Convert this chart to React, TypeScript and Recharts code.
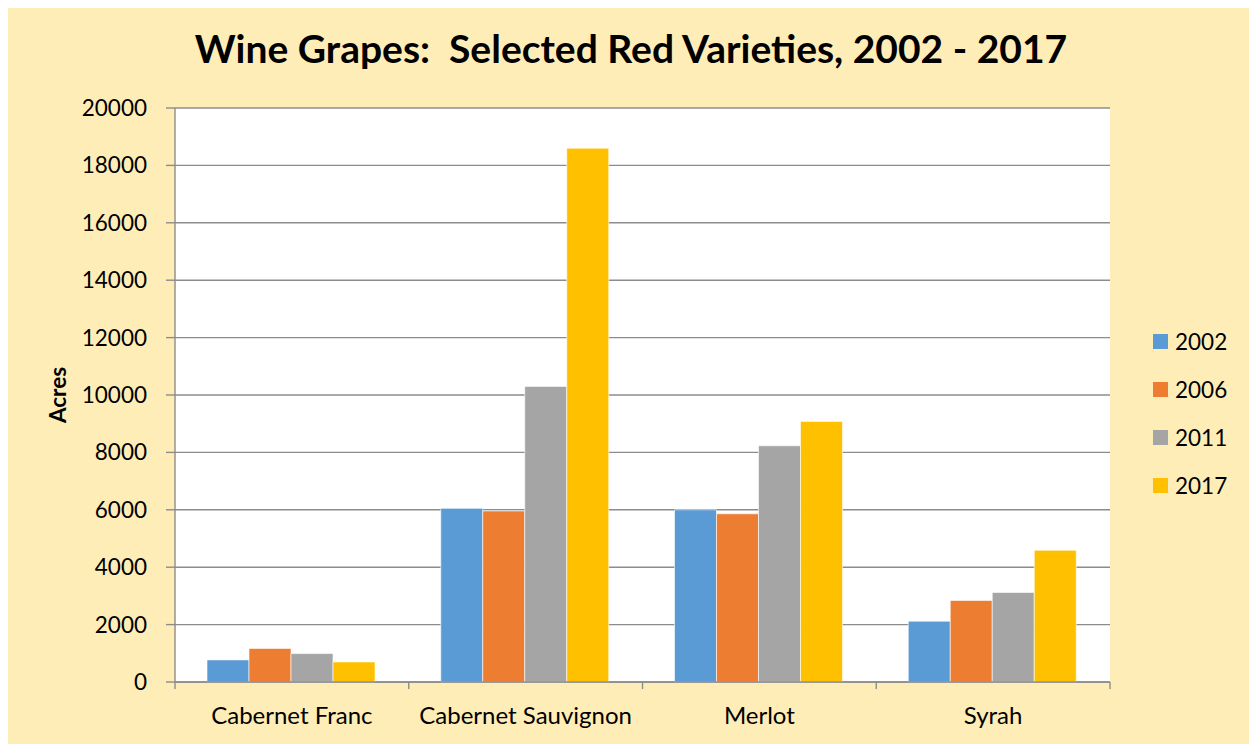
import { BarChart, Bar, XAxis, YAxis, CartesianGrid } from "recharts";

const CATEGORIES = ["Cabernet Franc", "Cabernet Sauvignon", "Merlot", "Syrah"];
const YEARS = ["2002", "2006", "2011", "2017"];
const ACRES_2002 = [770, 6050, 6000, 2120];
const ACRES_2006 = [1170, 5960, 5860, 2840];
const ACRES_2011 = [990, 10300, 8230, 3120];
const ACRES_2017 = [700, 18600, 9080, 4590];
const Y_TICKS = [0, 2000, 4000, 6000, 8000, 10000, 12000, 14000, 16000, 18000, 20000];
const COLORS = ["#5B9BD5", "#ED7D31", "#A5A5A5", "#FFC000"];

const FONT = "Lato, 'Open Sans', sans-serif";
const BG = "#FFEDB7";
const AXIS_GRAY = "#8C8C8C";

const SERIES = [ACRES_2002, ACRES_2006, ACRES_2011, ACRES_2017];

// boundaries between categories, for the tick marks under the axis
const BOUNDS = CATEGORIES.map((_, i) => i).concat(CATEGORIES.length);

const chartData = CATEGORIES.map((variety, i) => {
  // slot = centre of the category on a 0..n numeric scale
  const row: Record<string, string | number> = { variety, slot: i + 0.5 };
  YEARS.forEach((year, s) => {
    row[year] = SERIES[s][i];
  });
  return row;
});

const AcresLabel = ({ viewBox }: any) => {
  const cx = viewBox.x + 57;
  const cy = viewBox.y + viewBox.height / 2;
  return (
    <text
      x={cx}
      y={cy}
      transform={`rotate(-90 ${cx} ${cy})`}
      textAnchor="middle"
      dominantBaseline="central"
      fontFamily={FONT}
      fontWeight="bold"
      fontSize={22.5}
      fill="#000"
    >
      Acres
    </text>
  );
};

export default function App() {
  return (
    <div style={{ position: "relative", margin: -8, width: 1257, height: 752, background: "#fff" }}>
      <div
        style={{
          position: "absolute",
          left: 7,
          top: 2,
          width: 1245,
          height: 744,
          background: BG,
          border: "1.5px solid #9E9E9E",
        }}
      />
      <div
        style={{
          position: "absolute",
          left: 0,
          top: 24,
          width: 1262,
          textAlign: "center",
          fontFamily: FONT,
          fontWeight: "bold",
          fontSize: 39,
          lineHeight: "48px",
          color: "#000",
          whiteSpace: "pre",
        }}
      >
        {"Wine Grapes:  Selected Red Varieties, 2002 - 2017"}
      </div>
      <div style={{ position: "absolute", left: 0, top: 0 }}>
        <BarChart
          width={1257}
          height={752}
          data={chartData}
          margin={{ top: 108, right: 147, bottom: 0, left: 0 }}
          barCategoryGap={32}
          barGap={0}
        >
          <CartesianGrid
            vertical={false}
            stroke={AXIS_GRAY}
            strokeWidth={1.4}
            yAxisId="acres"
            xAxisId="cat"
            fill="#fff"
            fillOpacity={1}
          />
          <XAxis
            xAxisId="bounds"
            dataKey="slot"
            type="number"
            domain={[0, CATEGORIES.length]}
            allowDataOverflow
            ticks={BOUNDS}
            interval={0}
            tickFormatter={() => ""}
            tickSize={7}
            height={8}
            axisLine={{ stroke: AXIS_GRAY, strokeWidth: 1.4 }}
            tickLine={{ stroke: AXIS_GRAY, strokeWidth: 1.4 }}
          />
          <XAxis
            xAxisId="cat"
            dataKey="variety"
            axisLine={false}
            tickLine={false}
            tickSize={0}
            tickMargin={17}
            height={62}
            interval={0}
            tick={{ fill: "#000", fontSize: 24, fontFamily: FONT }}
          />
          <YAxis
            yAxisId="acres"
            width={175}
            domain={[0, 20000]}
            ticks={Y_TICKS}
            interval={0}
            tickSize={9}
            tickMargin={19}
            axisLine={{ stroke: AXIS_GRAY, strokeWidth: 1.4 }}
            tickLine={{ stroke: AXIS_GRAY, strokeWidth: 1.4 }}
            tick={{ fill: "#000", fontSize: 22.5, fontFamily: FONT }}
            label={<AcresLabel />}
          />
          {YEARS.map((year, i) => (
            <Bar
              key={year}
              dataKey={year}
              xAxisId="cat"
              yAxisId="acres"
              fill={COLORS[i]}
              stroke="#fff"
              strokeOpacity={0.6}
              strokeWidth={1}
              isAnimationActive={false}
            />
          ))}
        </BarChart>
      </div>
      <div style={{ position: "absolute", left: 1153, top: 317, fontFamily: FONT }}>
        {YEARS.map((year, i) => (
          <div key={year} style={{ display: "flex", alignItems: "center", height: 48 }}>
            <span
              style={{
                width: 15,
                height: 15,
                background: COLORS[i],
                display: "inline-block",
                marginRight: 7,
              }}
            />
            <span style={{ fontSize: 22.5, color: "#000" }}>{year}</span>
          </div>
        ))}
      </div>
    </div>
  );
}
